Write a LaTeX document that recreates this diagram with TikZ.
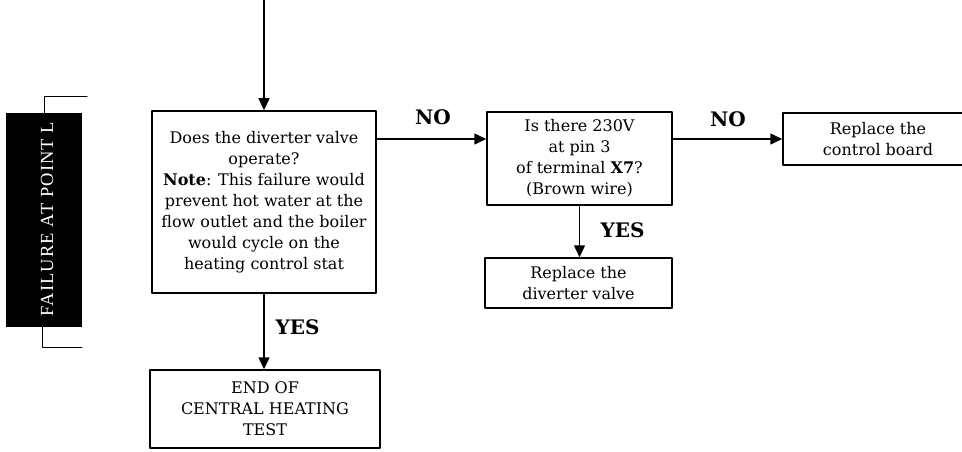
\documentclass[tikz,border=0pt]{standalone}
\usepackage{fontspec}
\setmainfont{DejaVu Serif}
\newfontfamily\barfont[LetterSpace=6]{Liberation Serif}
\usetikzlibrary{arrows.meta}
\begin{document}
\begin{tikzpicture}[line cap=round,line join=round,>={Triangle[length=12pt,width=11pt]},x=1pt,y=-1pt,
  box/.style={draw,line width=1.5pt,align=center,inner sep=0pt,font=\fontsize{16}{21}\selectfont},
  lbl/.style={font=\fontsize{20}{22}\selectfont\bfseries},
  conn/.style={line width=1.5pt}]
			\useasboundingbox (0,0) rectangle (962,452);
			\clip (0,0) rectangle (962,452);
			% side bar
			\node (bar) [fill=black,minimum width=76pt,minimum height=214pt,inner sep=0pt] at (44,220) {};
			\node (bartext) [text=white,rotate=90,font=\barfont\fontsize{18.5}{20}\selectfont] at (47,219) {FAILURE AT POINT L};
			\draw [line width=1pt] (87,97)-- (bar.north |- 0,97) -- (bar.north);
			\draw [line width=1pt] (82,347)-- (42,347) -- (bar.south -| 42,0);
			% boxes
			\node (main) [box,minimum width=224pt,minimum height=182pt] at (264,202) {Does the diverter valve\\operate?\\\textbf{Note}: This failure would\\prevent hot water at the\\flow outlet and the boiler\\would cycle on the\\heating control stat};
			\node (volts) [box,minimum width=185pt,minimum height=93pt] at (579.5,158.5) {Is there 230V\\at pin 3\\of terminal \textbf{X7}?\\(Brown wire)};
			\node (board) [box,minimum width=190pt,minimum height=52pt] at (878,139) {Replace the\\control board};
			\node (valve) [box,minimum width=187pt,minimum height=50pt] at (578.5,283) {Replace the\\diverter valve};
			\node (endtest) [box,minimum width=230pt,minimum height=78pt] at (265,409) {END OF\\CENTRAL HEATING\\TEST};
			% connectors
			\coordinate (start) at (264,0);
			\draw [conn,->] (start)-- (main.north);
			\draw [conn,->] (main.east |- 0,139)-- (volts.west |- 0,139);
			\draw [conn,->] (volts.east |- board.west)-- (board.west);
			\draw [conn,->] (volts.south)-- (volts.south |- valve.north);
			\draw [conn,->] (main.south)-- (main.south |- endtest.north);
			% labels
			\node (no1) [lbl] at (433,117) {NO};
			\node (no2) [lbl] at (728,119) {NO};
			\node (yes1) [lbl,anchor=west] at (597,230) {YES};
			\node (yes2) [lbl,anchor=west] at (272,327) {YES};
\end{tikzpicture}
\end{document}
